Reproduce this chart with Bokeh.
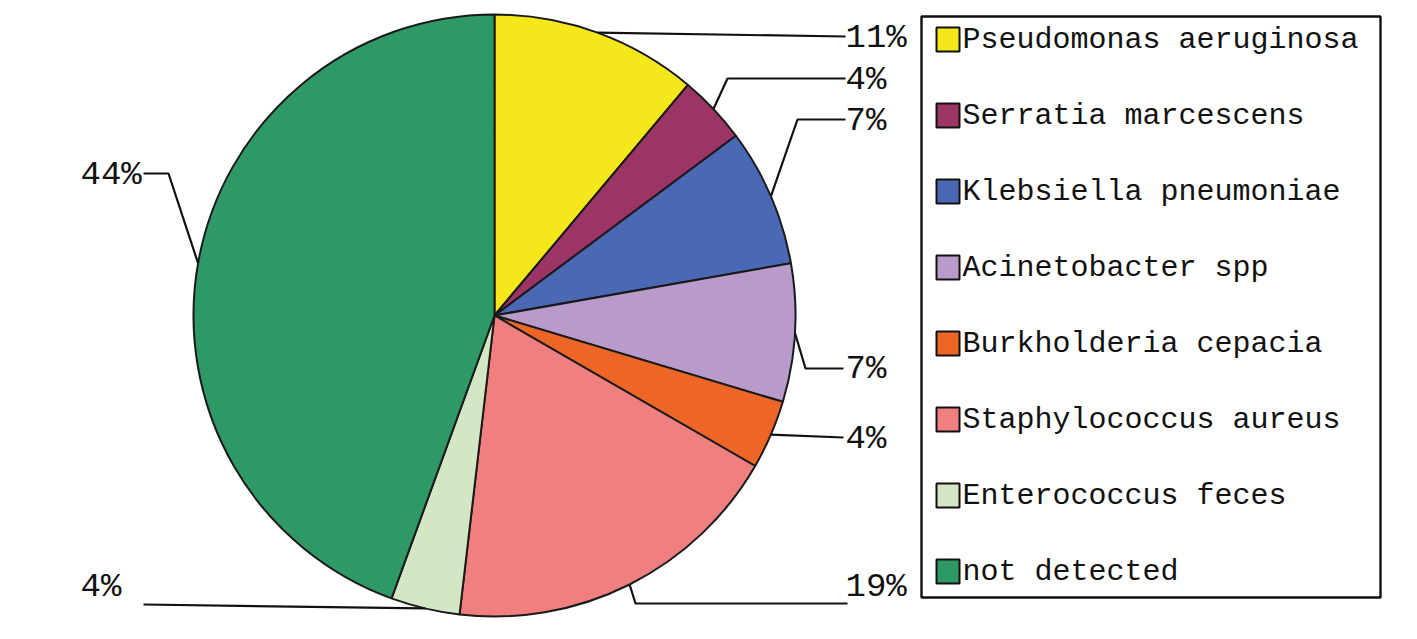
import math
from bokeh.plotting import figure
from bokeh.models import Range1d
from bokeh.core.properties import value
from bokeh.embed import file_html
from bokeh.resources import INLINE

# ---- data ----
categories = ["Pseudomonas aeruginosa", "Serratia marcescens", "Klebsiella pneumoniae",
              "Acinetobacter spp", "Burkholderia cepacia", "Staphylococcus aureus",
              "Enterococcus feces", "not detected"]
counts = [3, 1, 2, 2, 1, 5, 1, 12]
colors = ["#F5E81A", "#9C3466", "#4A68B4", "#B89BCB", "#EE6627",
          "#F08080", "#D3E7C5", "#2F9966"]

# ---- layout (reference pixel coordinates) ----
W, H = 1401, 623
def X(sx): return sx
def Y(sy): return H - sy

CX, CY, R = 494, 315, 301
# per slice: leader bend/end points (screen px) and label anchor
leader_pts = [
    [(845, 36)],
    [(727, 78), (845, 78)],
    [(797, 119), (845, 119)],
    [(805, 368), (843, 368)],
    [(843, 437)],
    [(635, 603), (847, 603)],
    [(143, 604)],
    [(168, 173), (143, 173)],
]
label_pos = [(845, 37), (845, 79), (845, 120), (845, 368), (845, 438),
             (845, 586), (80, 586), (80, 174)]

FONT = "Liberation Mono"

p = figure(width=W, height=H, x_range=Range1d(0, W), y_range=Range1d(0, H),
           output_backend="svg", toolbar_location=None,
           x_axis_location=None, y_axis_location=None, min_border=0)
p.grid.visible = False
p.outline_line_color = None
p.background_fill_color = "white"
p.border_fill_color = "white"

total = sum(counts)
cum = [0]
for c in counts:
    cum.append(cum[-1] + c)
starts = [math.pi / 2 - 2 * math.pi * cum[i] / total for i in range(len(counts))]
ends = [math.pi / 2 - 2 * math.pi * cum[i + 1] / total for i in range(len(counts))]

p.wedge(x=X(CX), y=Y(CY), radius=R, start_angle=starts, end_angle=ends,
        direction="clock", fill_color=colors, line_color="#1a1a1a", line_width=2)

# leader lines and percentage labels
xs, ys, lx, ly, ltxt = [], [], [], [], []
for i, c in enumerate(counts):
    th = 2 * math.pi * (cum[i] + c / 2) / total
    ax, ay = CX + R * math.sin(th), CY - R * math.cos(th)
    pts = [(ax, ay)] + leader_pts[i]
    xs.append([X(px) for px, py in pts])
    ys.append([Y(py) for px, py in pts])
    lx.append(X(label_pos[i][0]))
    ly.append(Y(label_pos[i][1]))
    ltxt.append(f"{round(100 * c / total)}%")
p.multi_line(xs=xs, ys=ys, line_color="#111111", line_width=2.2)
p.text(x=lx, y=ly, text=ltxt, text_font=value(FONT), text_font_size="34px",
       text_align="left", text_baseline="middle", text_color="#111111")

# legend box
LX0, LX1, LY0, LY1 = 921, 1380, 16, 597
p.quad(left=X(LX0), right=X(LX1), top=Y(LY0), bottom=Y(LY1),
       fill_color="white", line_color="#111111", line_width=2.4)
ey = [39 + 76 * i for i in range(len(categories))]
p.quad(left=[X(936)] * len(ey), right=[X(959)] * len(ey),
       top=[Y(e - 12) for e in ey], bottom=[Y(e + 12) for e in ey],
       fill_color=colors, line_color="#111111", line_width=2)
p.text(x=[X(962)] * len(ey), y=[Y(e) for e in ey], text=categories,
       text_font=value(FONT), text_font_size="30px", text_align="left",
       text_baseline="middle", text_color="#111111")

open("out.html", "w").write(file_html(p, INLINE))
